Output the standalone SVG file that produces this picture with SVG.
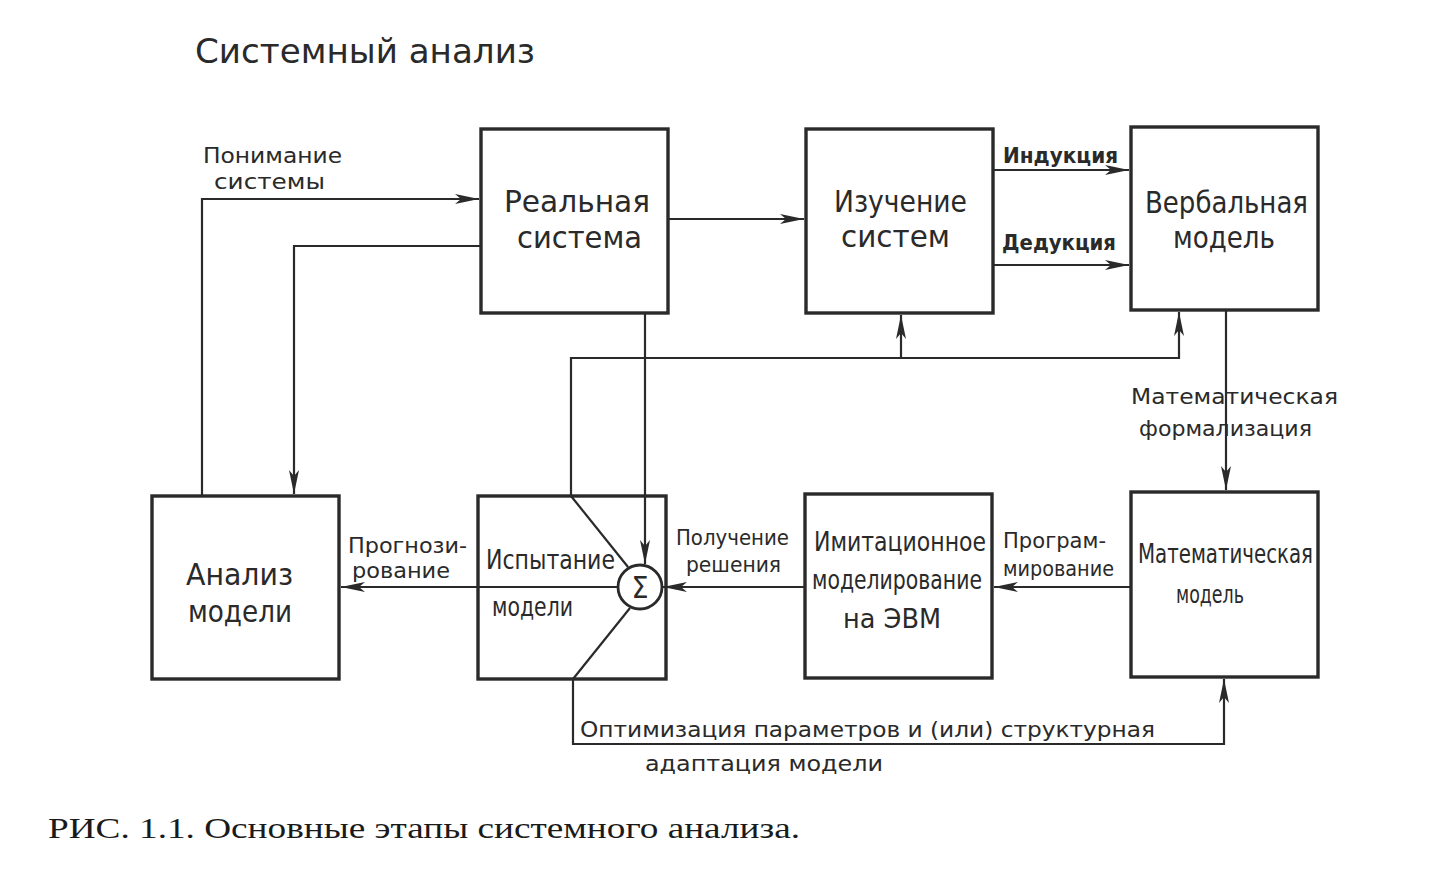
<svg xmlns="http://www.w3.org/2000/svg" width="1440" height="870" viewBox="0 0 1440 870">
<style>
.box{fill:none;stroke:#2a2a2a;stroke-width:3.4}
.ln{fill:none;stroke:#2a2a2a;stroke-width:2.2}
.t{font-family:"DejaVu Sans Condensed","DejaVu Sans","Liberation Sans",sans-serif;fill:#2a2a2a;font-stretch:condensed}
.big{font-size:31px}
.mid{font-size:27px}
.sm{font-size:22px}
.cap{font-family:"Liberation Serif","Times New Roman",serif;font-size:30px;fill:#1a1a1a}
</style>
<defs>
<marker id="ar" viewBox="0 0 24 12" refX="24" refY="6" markerWidth="24" markerHeight="12" markerUnits="userSpaceOnUse" orient="auto">
<path d="M0,1 L24,6 L0,11 L6,6 Z" fill="#2a2a2a"/>
</marker>
</defs>
<rect width="1440" height="870" fill="#ffffff"/>
<text class="t" x="195" y="63" font-size="34" textLength="340" lengthAdjust="spacingAndGlyphs">Системный  анализ</text>

<g id="connectors">
<polyline class="ln" points="202,496 202,199 479,199" marker-end="url(#ar)"/>
<polyline class="ln" points="481,246 294,246 294,494" marker-end="url(#ar)"/>
<line class="ln" x1="668" y1="219" x2="804" y2="219" marker-end="url(#ar)"/>
<line class="ln" x1="993" y1="170" x2="1129" y2="170" marker-end="url(#ar)" stroke-width="2.8"/>
<line class="ln" x1="993" y1="265" x2="1129" y2="265" marker-end="url(#ar)" stroke-width="2.8"/>
<line class="ln" x1="1226" y1="310" x2="1226" y2="490" marker-end="url(#ar)"/>
<line class="ln" x1="645" y1="313" x2="645" y2="564" marker-end="url(#ar)"/>
<polyline class="ln" points="571,496 571,358 1179,358 1179,312" marker-end="url(#ar)"/>
<line class="ln" x1="901" y1="358" x2="901" y2="315" marker-end="url(#ar)"/>
<line class="ln" x1="1131" y1="587" x2="994" y2="587" marker-end="url(#ar)"/>
<line class="ln" x1="805" y1="587" x2="663" y2="587" marker-end="url(#ar)"/>
<line class="ln" x1="618" y1="587" x2="341" y2="587" marker-end="url(#ar)"/>
<polyline class="ln" points="573,679 573,744 1224,744 1224,679" marker-end="url(#ar)"/>
<line class="ln" x1="571" y1="496" x2="628" y2="567"/>
<line class="ln" x1="630" y1="608" x2="573" y2="679"/>
</g>

<g id="real-system">
<rect class="box" x="481" y="129" width="187" height="184"/>
<text class="t big" x="504" y="212" textLength="146" lengthAdjust="spacingAndGlyphs">Реальная</text>
<text class="t big" x="517" y="248" textLength="125" lengthAdjust="spacingAndGlyphs">система</text>
</g>
<g id="study">
<rect class="box" x="806" y="129" width="187" height="184"/>
<text class="t big" x="834" y="212" textLength="133" lengthAdjust="spacingAndGlyphs">Изучение</text>
<text class="t big" x="841" y="247" textLength="109" lengthAdjust="spacingAndGlyphs">систем</text>
</g>
<g id="verbal">
<rect class="box" x="1131" y="127" width="187" height="183"/>
<text class="t big" x="1145" y="213" textLength="163" lengthAdjust="spacingAndGlyphs">Вербальная</text>
<text class="t big" x="1173" y="248" textLength="102" lengthAdjust="spacingAndGlyphs">модель</text>
</g>
<g id="analysis">
<rect class="box" x="152" y="496" width="187" height="183"/>
<text class="t big" x="186" y="585" textLength="107" lengthAdjust="spacingAndGlyphs">Анализ</text>
<text class="t big" x="188" y="622" textLength="104" lengthAdjust="spacingAndGlyphs">модели</text>
</g>
<g id="testing">
<rect class="box" x="478" y="496" width="188" height="183"/>
<text class="t mid" x="486" y="569" textLength="129" lengthAdjust="spacingAndGlyphs">Испытание</text>
<text class="t mid" x="492" y="616" textLength="81" lengthAdjust="spacingAndGlyphs">модели</text>
<circle cx="640" cy="587" r="22" fill="#ffffff" stroke="#2a2a2a" stroke-width="2.8"/>
<text class="t" x="640" y="598" font-size="30" text-anchor="middle">Σ</text>
</g>
<g id="simulation">
<rect class="box" x="805" y="494" width="187" height="184"/>
<text class="t mid" x="814" y="551" textLength="172" lengthAdjust="spacingAndGlyphs">Имитационное</text>
<text class="t mid" x="812" y="589" textLength="170" lengthAdjust="spacingAndGlyphs">моделирование</text>
<text class="t mid" x="843" y="628" textLength="98" lengthAdjust="spacingAndGlyphs">на ЭВМ</text>
</g>
<g id="math-model">
<rect class="box" x="1131" y="492" width="187" height="185"/>
<text class="t" x="1138" y="563" font-size="26" textLength="175" lengthAdjust="spacingAndGlyphs">Математическая</text>
<text class="t" x="1176" y="603" font-size="25" textLength="68" lengthAdjust="spacingAndGlyphs">модель</text>
</g>

<g id="labels">
<text class="t sm" x="203" y="163" textLength="139" lengthAdjust="spacingAndGlyphs">Понимание</text>
<text class="t sm" x="214" y="189" textLength="111" lengthAdjust="spacingAndGlyphs">системы</text>
<text class="t sm" x="1003" y="163" font-weight="bold" textLength="115" lengthAdjust="spacingAndGlyphs">Индукция</text>
<text class="t sm" x="1002" y="250" font-weight="bold" textLength="114" lengthAdjust="spacingAndGlyphs">Дедукция</text>
<text class="t sm" x="1131" y="404" textLength="207" lengthAdjust="spacingAndGlyphs">Математическая</text>
<text class="t sm" x="1139" y="436" textLength="173" lengthAdjust="spacingAndGlyphs">формализация</text>
<text class="t sm" x="348" y="553" textLength="119" lengthAdjust="spacingAndGlyphs">Прогнози-</text>
<text class="t sm" x="352" y="578" textLength="98" lengthAdjust="spacingAndGlyphs">рование</text>
<text class="t sm" x="676" y="545" textLength="113" lengthAdjust="spacingAndGlyphs">Получение</text>
<text class="t sm" x="686" y="572" textLength="95" lengthAdjust="spacingAndGlyphs">решения</text>
<text class="t sm" x="1003" y="548" textLength="103" lengthAdjust="spacingAndGlyphs">Програм-</text>
<text class="t sm" x="1003" y="576" textLength="111" lengthAdjust="spacingAndGlyphs">мирование</text>
<text class="t sm" x="580" y="737" textLength="575" lengthAdjust="spacingAndGlyphs">Оптимизация  параметров  и (или)  структурная</text>
<text class="t sm" x="645" y="771" textLength="238" lengthAdjust="spacingAndGlyphs">адаптация  модели</text>
</g>

<text class="cap" x="48" y="838" textLength="752" lengthAdjust="spacingAndGlyphs">РИС. 1.1. Основные этапы системного анализа.</text>
</svg>
